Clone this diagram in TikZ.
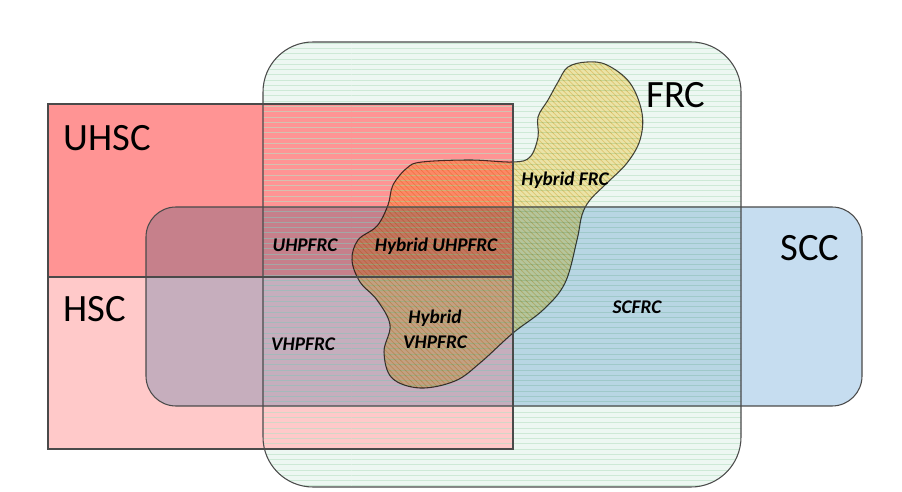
\documentclass[tikz,border=0pt]{standalone}
\usepackage{fontspec}
\setmainfont{Carlito}
\usetikzlibrary{patterns}
\definecolor{uhscred}{HTML}{FF9494}
\definecolor{hscpink}{HTML}{FFC9C9}
\definecolor{sccblue}{HTML}{C6DDF0}
\definecolor{frcback}{HTML}{EDF7F2}
\definecolor{frcline}{HTML}{B8E0C4}
\definecolor{hybyellow}{HTML}{FCEBB0}
\definecolor{hybline}{HTML}{E8BE5A}
\definecolor{edge}{HTML}{4A4A4A}
\def\frcround{1cm}
\def\sccround{0.6cm}
\tikzset{outline/.style={draw=edge, line width=0.6pt},
  bigtag/.style={font=\fontsize{22}{24}\selectfont, inner sep=0pt},
  smalltag/.style={font=\fontsize{11}{14}\selectfont\bfseries\itshape, align=center, inner sep=0pt}}

\begin{document}
\begin{tikzpicture}[x=0.02cm,y=-0.02cm]
  \useasboundingbox (0,0) rectangle (902,492);
  \fill[white] (0,0) rectangle (902,492);
  % FRC background
  \fill[frcback, rounded corners=\frcround] (263,42) rectangle (741,487);
  % UHSC and HSC
  \fill[uhscred] (48,104) rectangle (513,277);
  \fill[hscpink] (48,277) rectangle (513,449);
  % FRC hatch
  \fill[pattern=horizontal lines, pattern color=frcline, opacity=0.6, rounded corners=\frcround]
    (263,42) rectangle (741,487);
  % SCC
  \fill[sccblue, blend mode=multiply, rounded corners=\sccround]
    (146,207) rectangle (862,406);
  % Hybrid blob
  \path[blend mode=multiply, fill=hybyellow,
        postaction={pattern=north west lines, pattern color=hybline, opacity=0.5},
        postaction={outline}]
    plot[smooth cycle, tension=0.6] coordinates {
      (587,62) (607,65) (630,83) (642,113) (640,140) (627,163) (607,183)
      (590,200) (582,215) (577,240) (565,283) (543,310) (513,333) (480,363)
      (455,381) (420,388) (392,378) (384,352) (390,325) (377,300) (360,282)
      (352,260) (358,240) (377,226) (388,205) (393,185) (407,168) (422,162)
      (470,160) (513,162) (530,157) (538,137) (538,117) (548,100) (558,82)
      (568,67)};
  % Outlines
  \draw[outline, rounded corners=\frcround] (263,42) rectangle (741,487);
  \draw[outline] (48,104) rectangle (513,449);
  \draw[outline] (48,277) -- (513,277);
  \draw[outline, rounded corners=\sccround] (146,207) rectangle (862,406);
  % Labels
  \node[bigtag] (uhsc) at (107,138) {UHSC};
  \node[bigtag] (hsc) at (95,309) {HSC};
  \node[bigtag] (frc) at (676,95) {FRC};
  \node[bigtag] (scc) at (810,248) {SCC};
  \node[smalltag] (hybfrc) at (565,180) {Hybrid FRC};
  \node[smalltag] (uhpfrc) at (305,245) {UHPFRC};
  \node[smalltag] (hybuhpfrc) at (436,246) {Hybrid UHPFRC};
  \node[smalltag] (hybvhpfrc) at (435,329) {Hybrid\\VHPFRC};
  \node[smalltag] (vhpfrc) at (303,344) {VHPFRC};
  \node[smalltag] (scfrc) at (637,307) {SCFRC};
\end{tikzpicture}
\end{document}
